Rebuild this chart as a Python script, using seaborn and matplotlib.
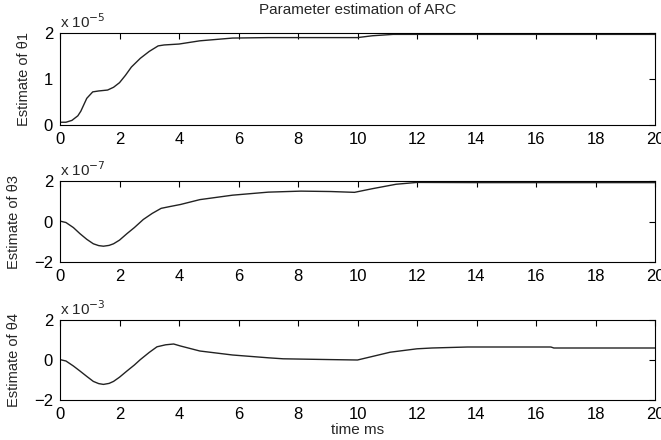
import numpy as np
import pandas as pd
import matplotlib
matplotlib.use("Agg")
import matplotlib.pyplot as plt
import seaborn as sns

# theta1 estimate (x 1e-5)
t1 = [0, 0.2, 0.4, 0.6, 0.7, 0.9, 1.1, 1.3, 1.6, 1.8, 2.0, 2.2, 2.4, 2.7, 3.0, 3.3, 3.5,
      4.0, 4.7, 5.8, 7.0, 8.0, 9.0, 10.0, 10.5, 11.2, 12.0, 14.0, 16.0, 18.0, 20.0]
th1 = [0.06, 0.06, 0.1, 0.2, 0.3, 0.58, 0.72, 0.74, 0.76, 0.82, 0.92, 1.08, 1.26, 1.45, 1.6, 1.72, 1.74,
       1.76, 1.83, 1.89, 1.9, 1.9, 1.9, 1.9, 1.94, 1.97, 1.97, 1.97, 1.97, 1.97, 1.97]

# theta3 estimate (x 1e-7)
t3 = [0, 0.2, 0.45, 0.67, 0.9, 1.12, 1.3, 1.46, 1.65, 1.8, 2.0, 2.25, 2.5, 2.8, 3.1, 3.4,
      3.7, 4.05, 4.7, 5.8, 7.0, 8.1, 9.1, 9.9, 10.5, 11.3, 12.0, 14.0, 16.0, 18.0, 20.0]
th3 = [0.02, -0.05, -0.3, -0.6, -0.88, -1.1, -1.19, -1.22, -1.18, -1.1, -0.92, -0.6, -0.3, 0.1, 0.4, 0.65,
       0.74, 0.84, 1.08, 1.3, 1.45, 1.5, 1.48, 1.44, 1.62, 1.84, 1.93, 1.92, 1.92, 1.92, 1.92]

# theta4 estimate (x 1e-3)
t4 = [0, 0.2, 0.45, 0.67, 0.9, 1.12, 1.3, 1.46, 1.65, 1.8, 2.0, 2.25, 2.5, 2.7, 3.0, 3.26,
      3.55, 3.82, 4.05, 4.7, 5.8, 7.0, 7.5, 9.1, 10.0, 11.1, 12.0, 12.5, 13.7, 16.5, 16.6, 20.0]
th4 = [0.02, -0.05, -0.3, -0.55, -0.82, -1.07, -1.18, -1.22, -1.17, -1.07, -0.86, -0.55, -0.25, 0.02, 0.38, 0.66,
       0.76, 0.8, 0.7, 0.45, 0.25, 0.11, 0.06, 0.02, 0.0, 0.39, 0.56, 0.6, 0.65, 0.65, 0.6, 0.6]

series = [
    (t1, th1, "Estimate of θ1", "x 10$^{-5}$", [0, 1, 2], (0, 2)),
    (t3, th3, "Estimate of θ3", "x 10$^{-7}$", [-2, 0, 2], (-2, 2)),
    (t4, th4, "Estimate of θ4", "x 10$^{-3}$", [-2, 0, 2], (-2, 2)),
]

sns.set_style("white")
plt.rcParams["font.family"] = ["Liberation Sans", "DejaVu Sans"]
plt.rcParams["font.size"] = 11

fig = plt.figure(figsize=(6.61, 4.40), dpi=100)
W, H = 661, 440
boxes = [(33, 125), (181, 262), (320, 400)]
left, right = 60, 655

for (t, v, ylab, mult, yt, ylim), (top, bot) in zip(series, boxes):
    ax = fig.add_axes([left / W, 1 - bot / H, (right - left) / W, (bot - top) / H])
    df = pd.DataFrame({"t": t, "v": v})
    sns.lineplot(data=df, x="t", y="v", ax=ax, color="#222222", linewidth=1.0)
    ax.set_xlim(0, 20)
    ax.set_ylim(*ylim)
    ax.set_xticks(np.arange(0, 21, 2))
    ax.set_yticks(yt)
    ax.tick_params(direction="in", length=4, top=True, right=True, labelsize=12,
                   colors="black", pad=5)
    for s in ax.spines.values():
        s.set_color("black")
        s.set_linewidth(0.8)
    ax.set_ylabel(ylab, fontsize=10.5, labelpad=9)
    ax.set_xlabel("")
    ax.text(0.0, 1.02, mult, transform=ax.transAxes, fontsize=11, ha="left", va="bottom")

    if top == 33:
        ax.set_title("Parameter estimation of ARC", fontsize=11, pad=14)
    if top == 320:
        ax.set_xlabel("time ms", fontsize=11, labelpad=1)

fig.savefig("out.png", dpi=100)
